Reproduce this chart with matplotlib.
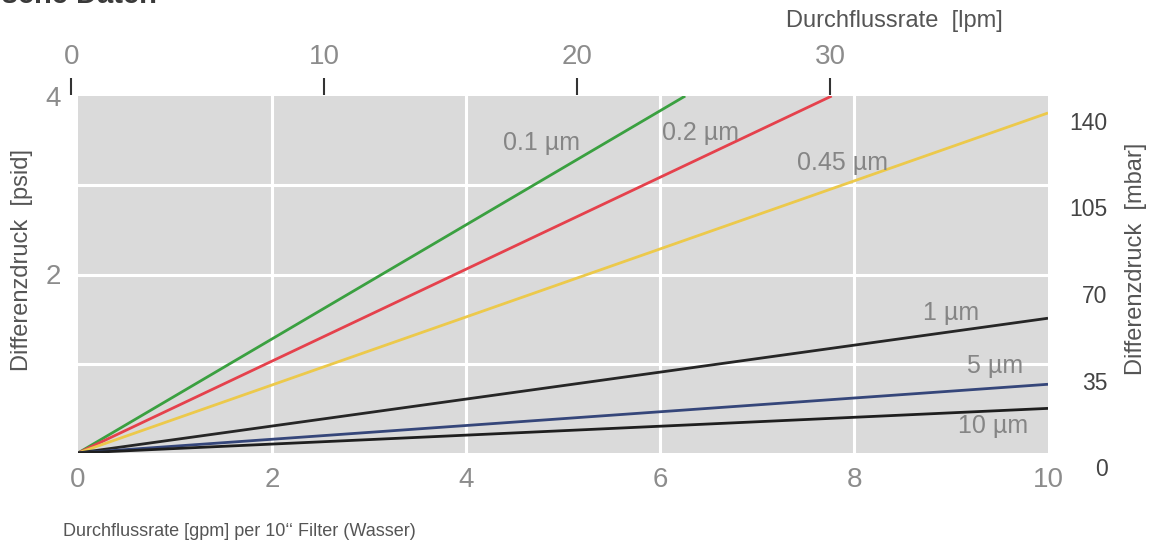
import matplotlib
matplotlib.use("Agg")
import matplotlib.pyplot as plt

plt.rcParams['font.family'] = ['Liberation Sans', 'DejaVu Sans']

# ---- data ----
filters = ["0.1 µm", "0.2 µm", "0.45 µm", "1 µm", "5 µm", "10 µm"]
flow_gpm = [[0, 6.26], [0, 7.77], [0, 10], [0, 10], [0, 10], [0, 10]]
dp_psid = [[0, 4.0], [0, 4.0], [0, 3.81], [0, 1.51], [0, 0.77], [0, 0.50]]
colors = ["#3aa040", "#e5414c", "#ecc94b", "#262626", "#35467a", "#1e1e1e"]
label_x = [4.78, 6.42, 7.88, 9.00, 9.45, 9.43]
label_y = [3.39, 3.51, 3.17, 1.49, 0.90, 0.22]

x_ticks = [0, 2, 4, 6, 8, 10]
y_ticks = [2, 4]
lpm_ticks = [0, 10, 20, 30]
mbar_ticks = [0, 35, 70, 105, 140]

W, H = 1161, 548
fig = plt.figure(figsize=(W / 100, H / 100), dpi=100)

def fx(px):
    return px / W

def fy(py):
    return 1 - py / H

# main axes: pixels x 78..1048, y 96..453
ax = fig.add_axes([fx(78), fy(453), (1048 - 78) / W, (453 - 96) / H])
ax.set_facecolor("#dadada")
ax.set_xlim(0, 10)
ax.set_ylim(0, 4)
for s in ax.spines.values():
    s.set_visible(False)
for gx in [2, 4, 6, 8]:
    ax.axvline(gx, color="white", lw=2.2, zorder=1)
for gy in [1, 2, 3]:
    ax.axhline(gy, color="white", lw=2.2, zorder=1)

for name, xs, ys, c, lx, ly in zip(filters, flow_gpm, dp_psid, colors, label_x, label_y):
    ax.plot(xs, ys, color=c, lw=2.0, zorder=3, solid_capstyle="butt")
    ax.text(lx, ly, name, color="#858585", fontsize=18, ha="center", va="baseline", zorder=4)

ax.set_xticks(x_ticks)
ax.set_xticklabels([str(v) for v in x_ticks])
ax.set_yticks(y_ticks)
ax.set_yticklabels([str(v) for v in y_ticks])
ax.tick_params(axis="both", length=0, labelsize=20, labelcolor="#8c8c8c")
ax.tick_params(axis="x", pad=10)
ax.tick_params(axis="y", pad=12)

# top axis (lpm)
a0, a1 = 40, 1100
slope, icpt = 25.29, 71.4
axt = fig.add_axes([fx(a0), fy(95), (a1 - a0) / W, 0.0005])
axt.set_xlim((a0 - icpt) / slope, (a1 - icpt) / slope)
axt.patch.set_visible(False)
for s in axt.spines.values():
    s.set_visible(False)
axt.set_yticks([])
axt.set_xticks(lpm_ticks)
axt.set_xticklabels([str(v) for v in lpm_ticks])
axt.tick_params(axis="x", top=True, bottom=False, labeltop=True, labelbottom=False,
                direction="out", length=12, width=1.5, color="#333333",
                labelsize=20, labelcolor="#8c8c8c", pad=6)

# right axis (mbar): 0 at py 467, 140 at py 121
r0, r1 = 80, 490
mper = 140 / (467 - 121)
axr = fig.add_axes([fx(78), fy(r1), (1048 - 78) / W, (r1 - r0) / H])
axr.set_ylim((467 - r1) * mper, (467 - r0) * mper)
axr.patch.set_visible(False)
for s in axr.spines.values():
    s.set_visible(False)
axr.set_xticks([])
axr.yaxis.tick_right()
axr.set_yticks(mbar_ticks)
axr.set_yticklabels([str(v) for v in mbar_ticks])
axr.tick_params(axis="y", length=0, labelsize=16.5, labelcolor="#444444", pad=43)
for t in axr.get_yticklabels():
    t.set_horizontalalignment("right")

# labels
fig.text(fx(22), fy(260), "Differenzdruck  [psid]", rotation=90, ha="center", va="center",
         fontsize=17, color="#555555")
fig.text(fx(1136), fy(259), "Differenzdruck  [mbar]", rotation=90, ha="center", va="center",
         fontsize=17, color="#555555")
fig.text(fx(894), fy(21), "Durchflussrate  [lpm]", ha="center", va="center",
         fontsize=17, color="#555555")
fig.text(fx(63), fy(531), "Durchflussrate [gpm] per 10‘‘ Filter (Wasser)", ha="left", va="center",
         fontsize=13, color="#555555")
fig.text(fx(157), fy(3), "Technische Daten", ha="right", va="baseline",
         fontsize=21, fontweight="bold", color="#3a3a3a")

fig.savefig("out.png", dpi=100)
